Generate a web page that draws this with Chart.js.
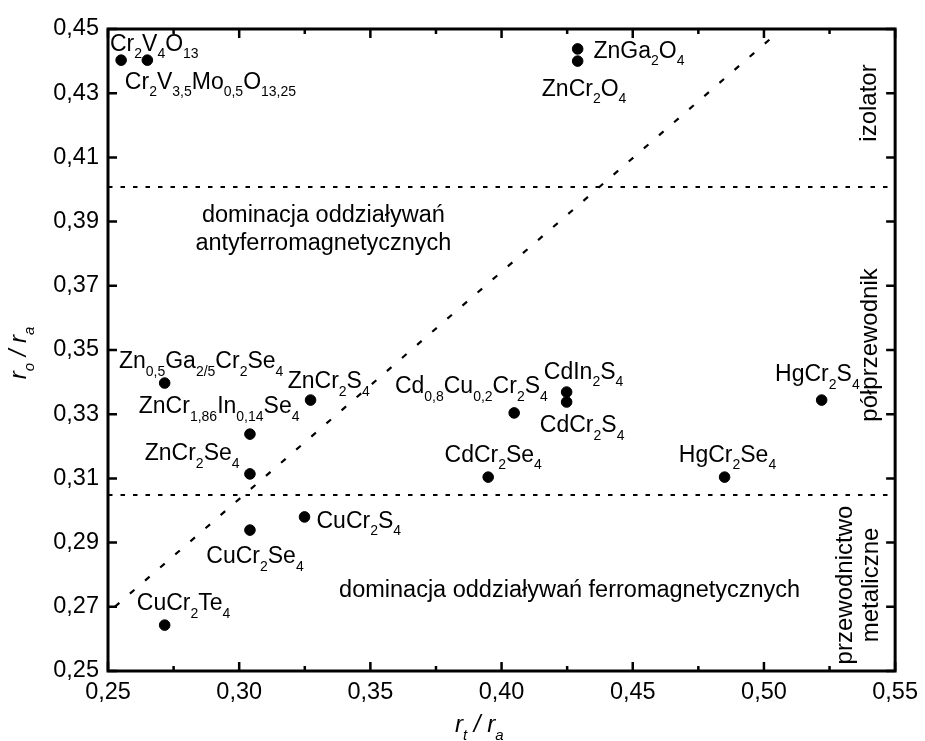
<!DOCTYPE html>
<html><head><meta charset="utf-8">
<script src="https://cdn.jsdelivr.net/npm/chart.js@4/dist/chart.umd.min.js"></script>
<style>html,body{margin:0;padding:0;background:#fff}#wrap{width:925px;height:741px;position:relative}</style>
</head><body><div id="wrap"><canvas id="c" width="925" height="741"></canvas></div>
<script>
// ---- data ----
const compounds = ['Cr_{2}V_{4}O_{13}','Cr_{2}V_{3,5}Mo_{0,5}O_{13,25}','ZnGa_{2}O_{4}','ZnCr_{2}O_{4}',
  'Zn_{0,5}Ga_{2/5}Cr_{2}Se_{4}','ZnCr_{2}S_{4}','ZnCr_{1,86}In_{0,14}Se_{4}','ZnCr_{2}Se_{4}',
  'CuCr_{2}S_{4}','CuCr_{2}Se_{4}','CuCr_{2}Te_{4}','Cd_{0,8}Cu_{0,2}Cr_{2}S_{4}','CdIn_{2}S_{4}',
  'CdCr_{2}S_{4}','CdCr_{2}Se_{4}','HgCr_{2}S_{4}','HgCr_{2}Se_{4}'];
const rtRa = [0.255,0.265,0.429,0.429,0.2716,0.3272,0.3041,0.3041,0.3249,0.3041,0.2716,0.4048,0.4248,0.4248,0.3949,0.5220,0.4850];
const roRa = [0.4403,0.4403,0.4438,0.4400,0.3397,0.3344,0.3238,0.3114,0.2980,0.2939,0.2643,0.3304,0.3369,0.3338,0.3104,0.3344,0.3104];
// label anchors (data coords: left edge x, baseline y)
const labelX = [0.25076,0.25643,0.43502,0.41534,0.25416,0.31848,0.26173,0.2640,0.32946,0.28746,0.26097,0.35934,0.41610,0.41459,0.37826,0.50425,0.46756];
const labelY = [0.44315,0.43131,0.44097,0.42913,0.34439,0.33816,0.33037,0.31573,0.29455,0.28364,0.26900,0.33660,0.34097,0.32445,0.31511,0.34034,0.31511];
// boundaries
const upperBoundary = 0.4008;   // izolator / półprzewodnik
const lowerBoundary = 0.3048;   // półprzewodnik / przewodnictwo metaliczne
const diagX = [0.2526, 0.5024];
const diagY = [0.2700, 0.4469];
// region texts
const regionTexts = ['dominacja oddziaływań','antyferromagnetycznych','dominacja oddziaływań ferromagnetycznych'];
const regionX = [0.3321,0.3321,0.42594];
const regionY = [0.38988,0.38115,0.27305];
const sideTexts = ['izolator','półprzewodnik','przewodnictwo','metaliczne'];
const sideX = [0.5402,0.5404,0.5310,0.5411];
const sideY = [0.42695,0.35156,0.27679,0.27679];
const xMin = 0.25, xMax = 0.55, xStep = 0.025;
const yMin = 0.25, yMax = 0.45, yStep = 0.02;

const FONT = "'Liberation Sans', Arial, sans-serif";
const fmt = v => v.toFixed(2).replace('.', ',');

function parseRich(s){
  const parts=[]; const re=/_\{([^}]*)\}/g; let last=0, m;
  while((m=re.exec(s))){ if(m.index>last) parts.push({t:s.slice(last,m.index),sub:false}); parts.push({t:m[1],sub:true}); last=re.lastIndex; }
  if(last<s.length) parts.push({t:s.slice(last),sub:false});
  return parts;
}
function drawRich(ctx, s, x, y, opt){
  const o=Object.assign({size:23,sub:14,dy:7.5,style:'',align:'left'},opt||{});
  const parts=parseRich(s);
  const fm=o.style+' '+o.size+'px '+FONT, fs=o.style+' '+o.sub+'px '+FONT;
  let w=0; parts.forEach(p=>{ctx.font=p.sub?fs:fm; p.w=ctx.measureText(p.t).width; w+=p.w;});
  let cx = o.align==='center'? x-w/2 : x;
  ctx.textBaseline='alphabetic'; ctx.textAlign='left'; ctx.fillStyle='#000';
  parts.forEach(p=>{ctx.font=p.sub?fs:fm; ctx.fillText(p.t,cx,p.sub?y+o.dy:y); cx+=p.w;});
}

const decor = {
  id:'decor',
  beforeDatasetsDraw(chart){
    const ctx=chart.ctx, xs=chart.scales.x, ys=chart.scales.y;
    ctx.save();
    compounds.forEach((c,i)=>drawRich(ctx,c,xs.getPixelForValue(labelX[i]),ys.getPixelForValue(labelY[i])));
    regionTexts.forEach((t,i)=>{
      ctx.font='23.5px '+FONT; ctx.fillStyle='#000'; ctx.textAlign='center'; ctx.textBaseline='alphabetic';
      ctx.fillText(t,xs.getPixelForValue(regionX[i]),ys.getPixelForValue(regionY[i]));
    });
    sideTexts.forEach((t,i)=>{
      ctx.save();
      ctx.translate(xs.getPixelForValue(sideX[i]),ys.getPixelForValue(sideY[i]));
      ctx.rotate(-Math.PI/2);
      ctx.font='24px '+FONT; ctx.fillStyle='#000'; ctx.textAlign='center'; ctx.textBaseline='middle';
      ctx.fillText(t,0,0);
      ctx.restore();
    });
    ctx.restore();
  },
  afterDraw(chart){
    const ctx=chart.ctx, a=chart.chartArea, xs=chart.scales.x, ys=chart.scales.y;
    ctx.save();
    ctx.strokeStyle='#000';
    ctx.lineWidth=2.5; ctx.lineCap='butt';
    ctx.beginPath();
    const nx=Math.round((xMax-xMin)/xStep);
    for(let i=0;i<=nx;i++){
      const v=xMin+i*xStep, px=xs.getPixelForValue(v), L=(i%2===0)?9:5;
      ctx.moveTo(px,a.bottom); ctx.lineTo(px,a.bottom-L);
      ctx.moveTo(px,a.top); ctx.lineTo(px,a.top+L);
    }
    const ny=Math.round((yMax-yMin)/yStep);
    for(let i=0;i<=ny;i++){
      const py=ys.getPixelForValue(yMin+i*yStep);
      ctx.moveTo(a.left,py); ctx.lineTo(a.left+9,py);
      ctx.moveTo(a.right,py); ctx.lineTo(a.right-9,py);
    }
    ctx.stroke();
    ctx.lineWidth=3;
    ctx.strokeRect(a.left,a.top,a.right-a.left,a.bottom-a.top);
    // axis titles
    drawRich(ctx,'r_{t} / r_{a}',455,732,{style:'italic',size:24,sub:15,dy:8});
    ctx.save(); ctx.translate(26,353); ctx.rotate(-Math.PI/2);
    drawRich(ctx,'r_{o} / r_{a}',0,0,{style:'italic',size:24,sub:15,dy:8,align:'center'});
    ctx.restore();
    ctx.restore();
  }
};

const pts = rtRa.map((x,i)=>({x:x,y:roRa[i]}));
new Chart(document.getElementById('c'),{
  type:'scatter',
  data:{datasets:[
    {data:pts,backgroundColor:'#000',borderColor:'#000',pointRadius:5.3,pointHoverRadius:5.3,order:0},
    {type:'line',data:[{x:xMin,y:upperBoundary},{x:xMax,y:upperBoundary}],borderColor:'#000',borderWidth:2,borderDash:[4.5,8],pointRadius:0,fill:false,order:1},
    {type:'line',data:[{x:xMin,y:lowerBoundary},{x:xMax,y:lowerBoundary}],borderColor:'#000',borderWidth:2,borderDash:[4.5,8],pointRadius:0,fill:false,order:1},
    {type:'line',data:diagX.map((x,i)=>({x:x,y:diagY[i]})),borderColor:'#000',borderWidth:2.2,borderDash:[6,14],pointRadius:0,fill:false,order:1}
  ]},
  options:{
    responsive:false, animation:false, devicePixelRatio:1,
    layout:{padding:{left:0,top:29,right:24,bottom:0}},
    plugins:{legend:{display:false},tooltip:{enabled:false}},
    scales:{
      x:{type:'linear',min:xMin,max:xMax,
        grid:{display:false,drawTicks:false},border:{display:false},
        ticks:{stepSize:xStep,autoSkip:false,maxRotation:0,padding:7,color:'#000',font:{family:FONT,size:23.5},
          callback:v=>(Math.round(v*1000)%50===0)?fmt(v):''},
        afterFit:s=>{s.height=70;}},
      y:{type:'linear',min:yMin,max:yMax,
        grid:{display:false,drawTicks:false},border:{display:false},
        ticks:{stepSize:yStep,autoSkip:false,padding:9,color:'#000',font:{family:FONT,size:23.5},callback:v=>fmt(v)},
        afterFit:s=>{s.width=108;}}
    }
  },
  plugins:[decor]
});
</script></body></html>
